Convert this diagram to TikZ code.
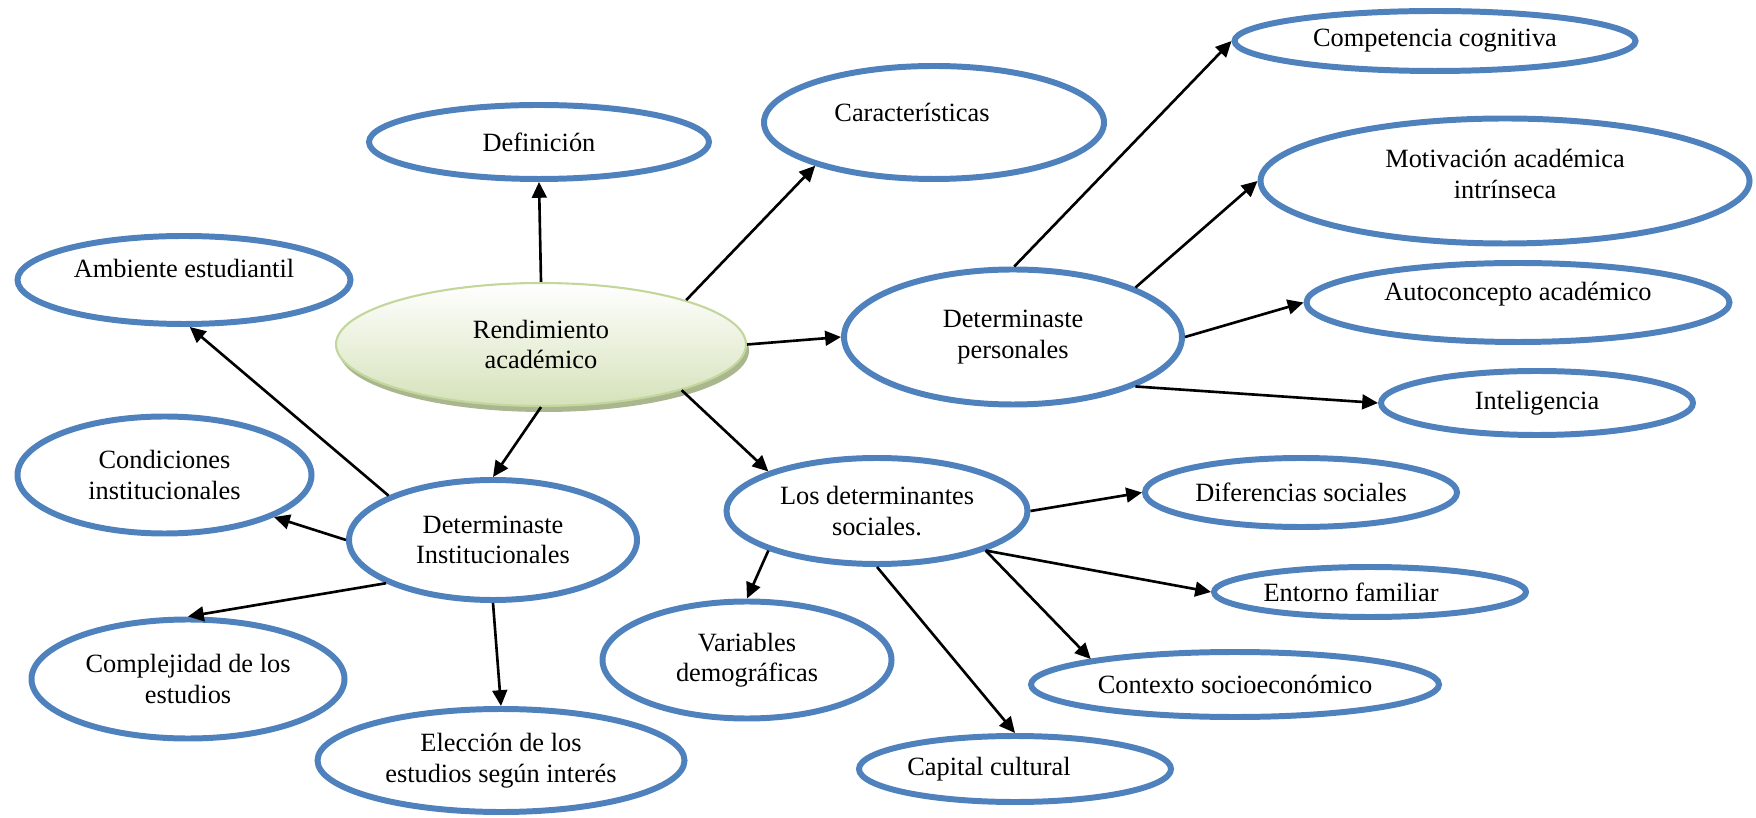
\documentclass[tikz,border=0pt]{standalone}
\usepackage{fontspec}
\setmainfont{Liberation Serif}
\usepackage{tikz}
\usetikzlibrary{arrows.meta}
\usetikzlibrary{shapes.geometric}
\usetikzlibrary{shadows}
\definecolor{bordeazul}{HTML}{4F81BD}
\definecolor{verdeborde}{HTML}{C3D69B}
\definecolor{verdeclaro}{HTML}{D5E2BA}
\definecolor{verdesombra}{HTML}{A9B68E}

\begin{document}
\begin{tikzpicture}[font=\fontsize{7.5}{8.7}\selectfont,
    burbuja/.style={draw=bordeazul, line width=1.7pt, ellipse, inner sep=0pt, align=center},
    flecha/.style={-{Triangle[length=4.5pt,width=4.2pt]}, line width=0.75pt}]
            \useasboundingbox (0,0) rectangle (17.56,8.17);

            % nodo central
            \node [ellipse, draw=verdeborde, line width=0.6pt, top color=white, bottom color=verdeclaro,
                drop shadow={shadow xshift=0.03cm, shadow yshift=-0.06cm, fill=verdesombra, opacity=1},
                minimum width=4.10cm, minimum height=1.23cm, inner sep=0pt, align=center](rend) at (5.41,4.725){Rendimiento\\académico};

            \node [burbuja, minimum width=3.40cm, minimum height=0.74cm](def) at (5.39,6.75){Definición};
            \node [burbuja, minimum width=3.40cm, minimum height=1.13cm,
                label={[xshift=-0.22cm,yshift=0.10cm]center:Características}](car) at (9.34,6.945){};

            \node [burbuja, minimum width=3.38cm, minimum height=1.35cm](pers) at (10.13,4.80){Determinaste\\personales};
            \node [burbuja, minimum width=4.01cm, minimum height=0.60cm](comp) at (14.35,7.76){Competencia cognitiva};
            \node [burbuja, minimum width=4.89cm, minimum height=1.25cm,
                label={[yshift=0.07cm,align=center]center:Motivación académica\\intrínseca}](mot) at (15.05,6.36){};
            \node [burbuja, minimum width=4.23cm, minimum height=0.79cm,
                label={[yshift=0.08cm]center:Autoconcepto académico}](auto) at (15.18,5.145){};
            \node [burbuja, minimum width=3.12cm, minimum height=0.64cm](intel) at (15.37,4.14){Inteligencia};

            \node [burbuja, minimum width=2.88cm, minimum height=1.20cm](inst) at (4.93,2.77){Determinaste\\Institucionales};
            \node [burbuja, minimum width=3.33cm, minimum height=0.88cm,
                label={[yshift=0.12cm]center:Ambiente estudiantil}](amb) at (1.84,5.37){};
            \node [burbuja, minimum width=2.94cm, minimum height=1.17cm](cond) at (1.645,3.42){Condiciones\\institucionales};
            \node [burbuja, minimum width=3.13cm, minimum height=1.19cm](compl) at (1.88,1.38){Complejidad de los\\estudios};
            \node [burbuja, minimum width=3.67cm, minimum height=1.03cm](elec) at (5.01,0.565){Elección de los\\estudios según interés};

            \node [burbuja, minimum width=3.01cm, minimum height=1.06cm](soc) at (8.77,3.06){Los determinantes\\sociales.};
            \node [burbuja, minimum width=2.89cm, minimum height=1.17cm](var) at (7.47,1.57){Variables\\demográficas};
            \node [burbuja, minimum width=3.12cm, minimum height=0.69cm](dif) at (13.01,3.245){Diferencias sociales};
            \node [burbuja, minimum width=3.12cm, minimum height=0.50cm,
                label={[xshift=-0.19cm]center:Entorno familiar}](ent) at (13.70,2.25){};
            \node [burbuja, minimum width=4.08cm, minimum height=0.65cm](ctx) at (12.35,1.325){Contexto socioeconómico};
            \node [burbuja, minimum width=3.12cm, minimum height=0.66cm,
                label={[xshift=-0.26cm]center:Capital cultural}](cap) at (10.15,0.48){};

            \draw[flecha] (rend.north) -- (def.south);
            \draw[flecha] (rend.17) -- (car.200);
            \draw[flecha] (rend.east) -- (pers.west);
            \draw[flecha] (rend.south) -- (inst.north);
            \draw[flecha] (rend.-18) -- (soc.160);

        \foreach \a/\b in {inst.157/amb.-83, inst.west/cond.-21, inst.202/compl.north, inst.south/elec.north}
            \draw[flecha] (\a) -- (\b);

        \foreach \a/\b in {pers.89/comp.west, pers.22/mot.west, pers.east/auto.west, pers.-22/intel.west}
            \draw[flecha] (\a) -- (\b);

        \foreach \a/\b in {soc.east/dif.west, soc.-20/ent.west, soc.-20/ctx.170, soc.south/cap.north, soc.200/var.north}
            \draw[flecha] (\a) -- (\b);
\end{tikzpicture}
\end{document}
